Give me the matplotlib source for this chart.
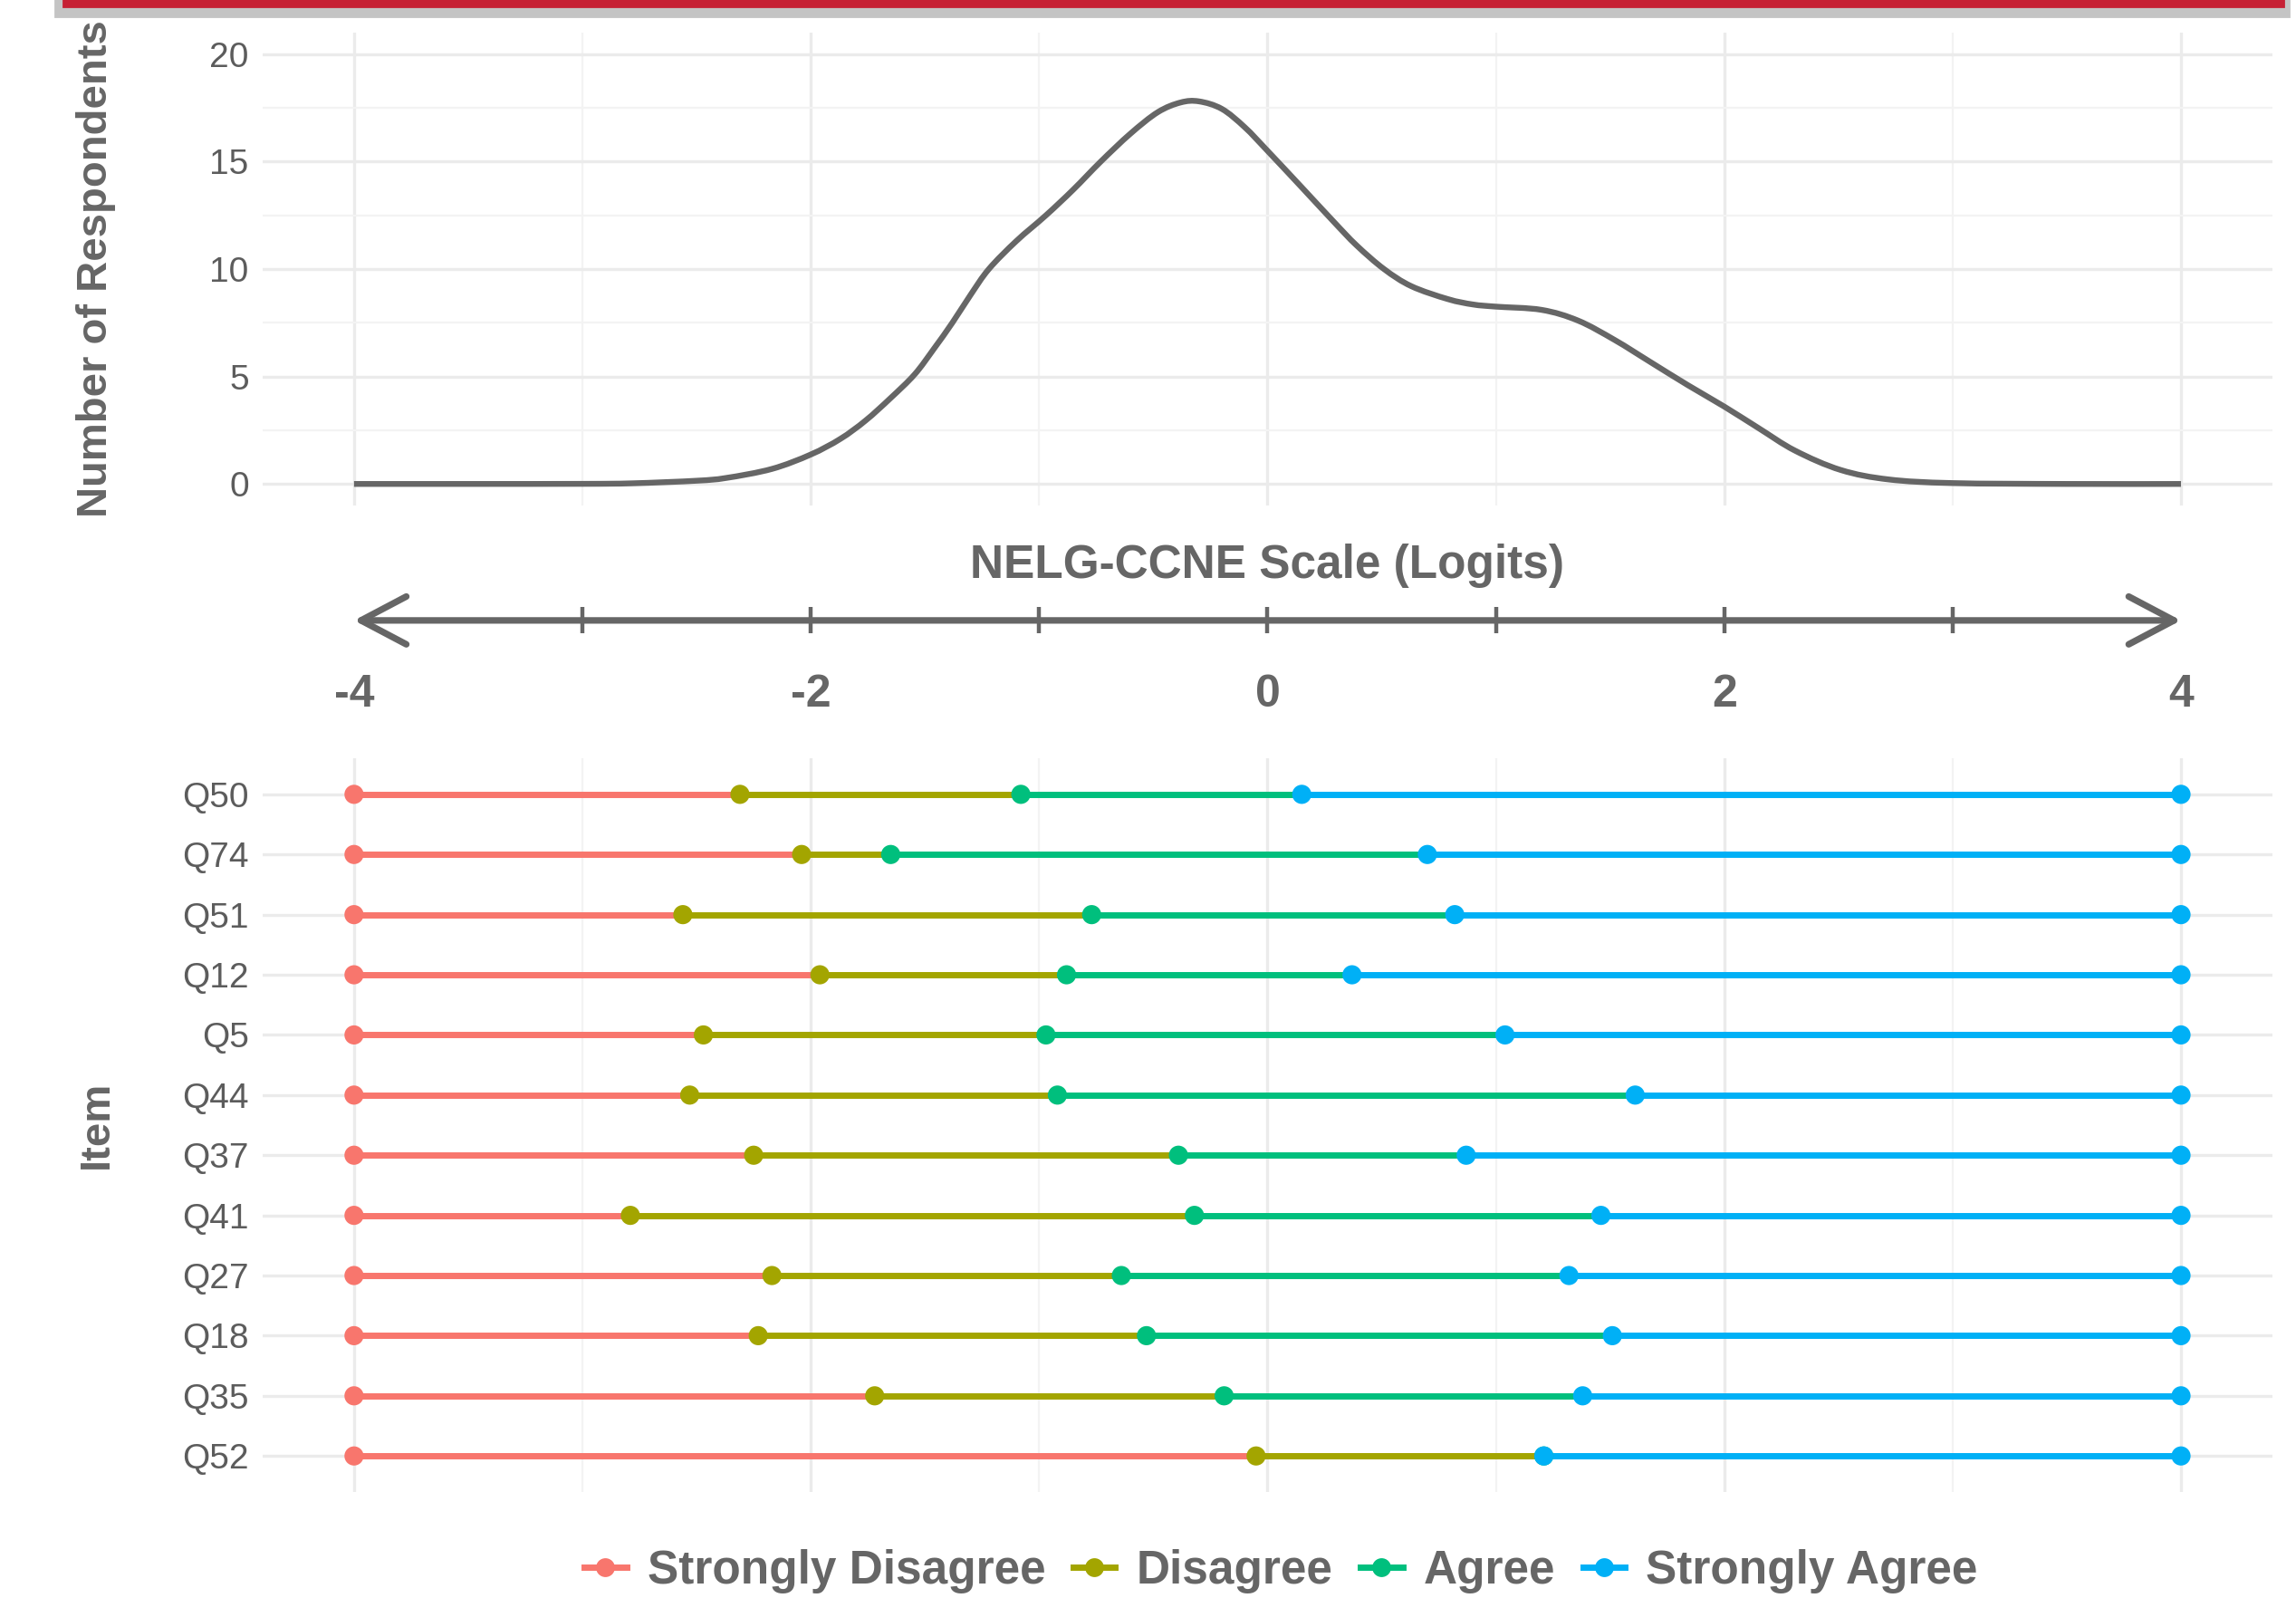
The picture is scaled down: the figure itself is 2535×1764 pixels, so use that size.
"""Person density over item category thresholds (Wright-map style).

Values read off the reference picture; layout mimics a ggplot theme_minimal export.
"""
import matplotlib

matplotlib.use("Agg")
import matplotlib.pyplot as plt  # noqa: E402
import numpy as np  # noqa: E402
from matplotlib.lines import Line2D  # noqa: E402
from matplotlib.patches import PathPatch, Rectangle  # noqa: E402
from matplotlib.path import Path  # noqa: E402

# --- person measure density (logits -> number of respondents) ---
DENS_X = [-4.0, -3.5, -3.0, -2.78, -2.5, -2.37, -2.17, -2.0, -1.87, -1.76,
          -1.65, -1.545, -1.46, -1.38, -1.30, -1.22, -1.1, -0.97, -0.85, -0.73,
          -0.60, -0.48, -0.38, -0.30, -0.20, -0.10, 0.0, 0.15, 0.29, 0.39,
          0.51, 0.63, 0.79, 0.9, 1.0, 1.20, 1.36, 1.52, 1.68, 1.84,
          2.0, 2.15, 2.31, 2.51, 2.72, 3.0, 3.5, 4.0]
DENS_Y = [0.0, 0.0, 0.005, 0.03, 0.15, 0.28, 0.7, 1.37, 2.1, 2.95,
          4.0, 5.1, 6.3, 7.5, 8.8, 10.0, 11.3, 12.5, 13.7, 15.0,
          16.3, 17.3, 17.75, 17.8, 17.45, 16.6, 15.5, 13.8, 12.2, 11.1,
          10.0, 9.2, 8.6, 8.35, 8.25, 8.1, 7.6, 6.7, 5.65, 4.6,
          3.6, 2.6, 1.55, 0.65, 0.21, 0.04, 0.0, 0.0]

# --- item category start points (logits), top row first ---
ITEMS = ["Q50", "Q74", "Q51", "Q12", "Q5", "Q44", "Q37", "Q41", "Q27", "Q18", "Q35", "Q52"]
DISAGREE = [-2.31, -2.04, -2.56, -1.96, -2.47, -2.53, -2.25, -2.79, -2.17, -2.23, -1.72, -0.05]
AGREE = [-1.08, -1.65, -0.77, -0.88, -0.97, -0.92, -0.39, -0.32, -0.64, -0.53, -0.19, 1.21]
STRONG_AGREE = [0.15, 0.70, 0.82, 0.37, 1.04, 1.61, 0.87, 1.46, 1.32, 1.51, 1.38, 1.21]
SCALE_MIN, SCALE_MAX = -4, 4
SCALE_LABELS = [-4, -2, 0, 2, 4]

CATEGORIES = ["Strongly Disagree", "Disagree", "Agree", "Strongly Agree"]
COLORS = ["#F8766D", "#A3A500", "#00BF7D", "#00B0F6"]

plt.rcParams["font.family"] = ["Liberation Sans", "DejaVu Sans"]
TEXT = "#5c5c5c"
TITLE = "#666666"
GRID = "#ebebeb"


def smooth_path(xs, ys):
    """Catmull-Rom curve through the points, as cubic Bezier segments."""
    p = np.column_stack([xs, ys]).astype(float)
    p_ext = np.vstack([p[0], p, p[-1]])
    verts = [p[0]]
    codes = [Path.MOVETO]
    for i in range(1, len(p_ext) - 2):
        p0, p1, p2, p3 = p_ext[i - 1], p_ext[i], p_ext[i + 1], p_ext[i + 2]
        verts += [p1 + (p2 - p0) / 6, p2 - (p3 - p1) / 6, p2]
        codes += [Path.CURVE4] * 3
    return Path(verts, codes)


fig = plt.figure(figsize=(12.675, 8.82), dpi=200)
L, W = 0.1144, 0.8753
XLIM = (-4.4, 4.4)

# red banner at the very top (crop of the page it came from)
fig.patches.append(Rectangle((0.024, 0.990), 0.973, 0.010, transform=fig.transFigure,
                             color="#c4c4c4", zorder=0))
fig.patches.append(Rectangle((0.0276, 0.9960), 0.967, 0.0040, transform=fig.transFigure,
                             color="#c62034", zorder=1))

# ---------------- top: density ----------------
ax1 = fig.add_axes([L, 0.6837, W, 0.2959])
ax1.add_patch(PathPatch(smooth_path(DENS_X, DENS_Y), fill=False, edgecolor="#666666",
                        lw=2.3, capstyle="butt", joinstyle="round", zorder=3))
ax1.set_xlim(*XLIM)
ax1.set_ylim(-1, 21)
ax1.set_yticks([0, 5, 10, 15, 20])
ax1.set_yticks([2.5, 7.5, 12.5, 17.5], minor=True)
ax1.set_xticks([-4, -2, 0, 2, 4])
ax1.set_xticks([-3, -1, 1, 3], minor=True)
ax1.set_xticklabels([])

# ---------------- bottom: item thresholds ----------------
ax2 = fig.add_axes([L, 0.0663, W, 0.4592])
n = len(ITEMS)
ypos = [n - 1 - i for i in range(n)]
starts = [[SCALE_MIN] * n, DISAGREE, AGREE, STRONG_AGREE]
ends = [DISAGREE, AGREE, STRONG_AGREE, [SCALE_MAX] * n]
for s, e, c in zip(starts, ends, COLORS):
    ax2.hlines(ypos, s, e, color=c, lw=2.5, zorder=2)
for s, c in zip(starts, COLORS):
    ax2.scatter(s, ypos, s=58, color=c, edgecolors="none", zorder=3)
ax2.scatter(ends[-1], ypos, s=58, color=COLORS[-1], edgecolors="none", zorder=3)
ax2.set_xlim(*XLIM)
ax2.set_ylim(-0.6, n - 0.4)
ax2.set_yticks(ypos)
ax2.set_yticklabels(ITEMS)
ax2.set_xticks([-4, -2, 0, 2, 4])
ax2.set_xticks([-3, -1, 1, 3], minor=True)
ax2.set_xticklabels([])

for ax in (ax1, ax2):
    for sp in ax.spines.values():
        sp.set_visible(False)
    ax.tick_params(which="both", length=0, pad=5.5, labelsize=14, labelcolor=TEXT)
    ax.grid(which="major", color=GRID, lw=1.2, zorder=0)
    ax.grid(which="minor", color="#f3f3f3", lw=0.8, zorder=0)
    ax.set_axisbelow(True)

# ---------------- middle: scale arrow ----------------
mid = fig.add_axes([L, 0.53, W, 0.15])
mid.set_xlim(*XLIM)
mid.set_ylim(0, 1)
mid.axis("off")
ya = 0.545
mid.annotate("", xy=(SCALE_MAX, ya), xytext=(SCALE_MIN, ya),
             arrowprops=dict(arrowstyle="<->,head_length=1.8,head_width=0.95",
                             lw=2.6, color="#666666", shrinkA=0, shrinkB=0,
                             mutation_scale=10))
mid.vlines(range(SCALE_MIN + 1, SCALE_MAX), ya - 0.055, ya + 0.055, color="#666666", lw=1.6)
mid.text(0, 0.772, "NELG-CCNE Scale (Logits)", ha="center", va="center",
         fontsize=18.5, fontweight="bold", color=TITLE)
for v in SCALE_LABELS:
    mid.text(v, 0.235, str(v), ha="center", va="center",
             fontsize=18, fontweight="bold", color=TITLE)

# axis titles
fig.text(0.042, 0.832, "Number of Respondents", rotation=90, ha="center", va="center",
         fontsize=17, fontweight="bold", color=TITLE)
fig.text(0.042, 0.296, "Item", rotation=90, ha="center", va="center",
         fontsize=17, fontweight="bold", color=TITLE)

# legend
handles = [Line2D([0], [0], color=c, lw=2.5, marker="o", ms=7.5, markeredgewidth=0)
           for c in COLORS]
leg = fig.legend(handles, CATEGORIES, loc="center", bbox_to_anchor=(0.558, 0.017),
                 ncol=4, frameon=False, handlelength=0.9, handletextpad=0.45,
                 columnspacing=0.6, borderaxespad=0,
                 prop={"size": 18.5, "weight": "bold"})
for t in leg.get_texts():
    t.set_color(TITLE)

fig.savefig("out.png", dpi=200, facecolor="white")
